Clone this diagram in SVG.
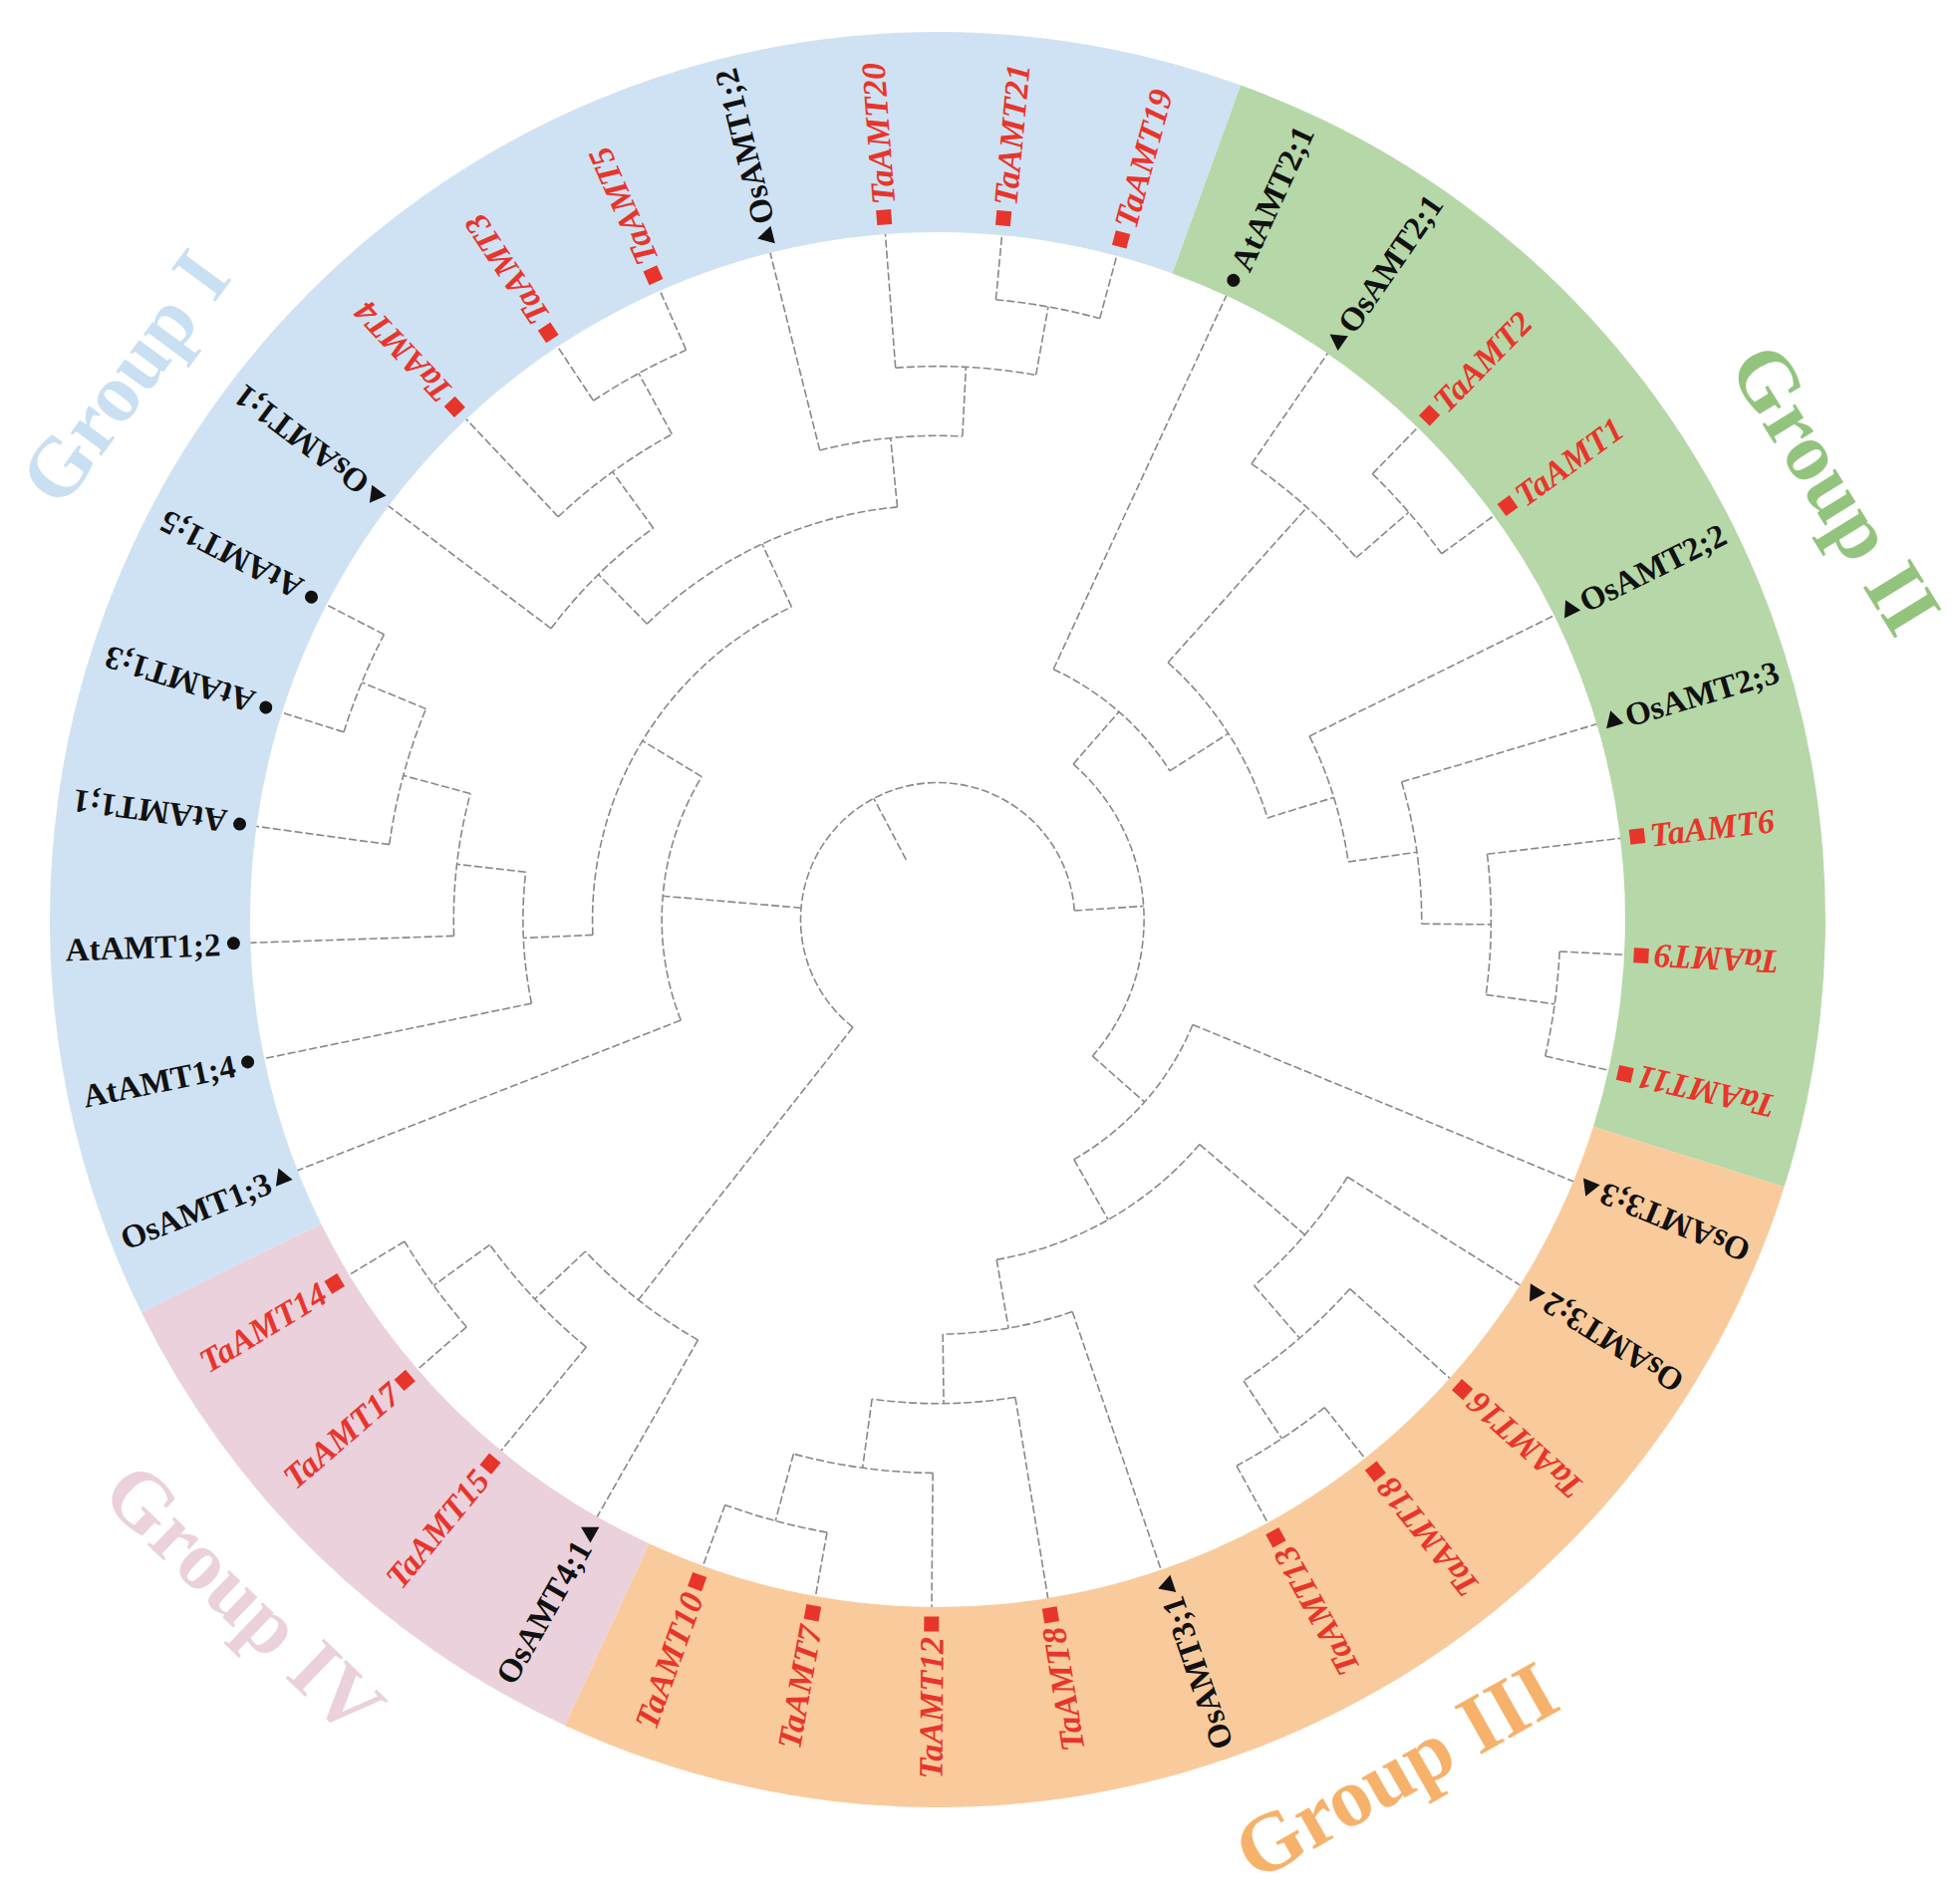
<svg xmlns="http://www.w3.org/2000/svg" width="1967" height="1906" viewBox="0 0 1967 1906">
<style>
.tree line,.tree path{fill:none;stroke:#888;stroke-width:1.6;stroke-dasharray:8 3}
.os{font-family:"Liberation Serif","DejaVu Serif",serif;font-size:33px;font-weight:bold;fill:#111}
.ta{font-family:"Liberation Serif","DejaVu Serif",serif;font-size:34px;font-style:italic;font-weight:bold;fill:#e8352b}
.e{text-anchor:end}
.grp{font-family:"Liberation Serif","DejaVu Serif",serif;font-size:84px;font-weight:bold;text-anchor:middle}
</style>
<defs>
<rect id="sq" x="-7.5" y="-7.5" width="15" height="15" fill="#e8352b"/>
<polygon id="tri" points="-9,7 9,7 0,-9" fill="#111"/>
<circle id="dot" r="6.5" fill="#111"/>
</defs>
<rect width="1967" height="1906" fill="#fff"/>
<g id="sectors">
<path id="sector-I" fill="#cfe2f3" d="M141.94,1317.18 A891,891 0 0 1 1245.14,85.52 L1176.53,274.44 A690,690 0 0 0 322.2,1228.26 Z"/>
<path id="sector-II" fill="#b6d7a8" d="M1245.14,85.52 A891,891 0 0 1 1790.62,1191.33 L1598.97,1130.8 A690,690 0 0 0 1176.53,274.44 Z"/>
<path id="sector-III" fill="#f9cb9c" d="M1790.62,1191.33 A891,891 0 0 1 566.93,1731.68 L651.32,1549.25 A690,690 0 0 0 1598.97,1130.8 Z"/>
<path id="sector-IV" fill="#ead1dc" d="M566.93,1731.68 A891,891 0 0 1 141.94,1317.18 L322.2,1228.26 A690,690 0 0 0 651.32,1549.25 Z"/>
</g>
<g id="group-labels" class="grp">
<text id="label-group-I" fill="#c9dff2" dy="0.35em" transform="translate(124,378) rotate(-53.5)">Group I</text>
<text id="label-group-II" fill="#93c47d" dy="0.35em" transform="translate(1843,490) rotate(58.3)">Group II</text>
<text id="label-group-III" fill="#f6b26b" dy="0.35em" transform="translate(1400,1776) rotate(-29.5)">Group III</text>
<text id="label-group-IV" fill="#ead1dc" dy="0.35em" transform="translate(246,1604) rotate(44)">Group IV</text>
</g>
<g id="connectors" class="tree" transform="translate(941,923)">
<line x1="555.4" x2="690" transform="rotate(90.5)"/>
<line x1="625" x2="690" transform="rotate(100.23)"/>
<line x1="625" x2="690" transform="rotate(109.959)"/>
<line x1="485.7" x2="690" transform="rotate(119.689)"/>
<line x1="555.4" x2="690" transform="rotate(129.419)"/>
<line x1="625" x2="690" transform="rotate(139.149)"/>
<line x1="625" x2="690" transform="rotate(148.878)"/>
<line x1="276.8" x2="690" transform="rotate(158.608)"/>
<line x1="416.1" x2="690" transform="rotate(168.338)"/>
<line x1="485.7" x2="690" transform="rotate(178.068)"/>
<line x1="555.4" x2="690" transform="rotate(187.797)"/>
<line x1="625" x2="690" transform="rotate(197.527)"/>
<line x1="625" x2="690" transform="rotate(207.257)"/>
<line x1="485.7" x2="690" transform="rotate(216.986)"/>
<line x1="555.4" x2="690" transform="rotate(226.716)"/>
<line x1="625" x2="690" transform="rotate(236.446)"/>
<line x1="625" x2="690" transform="rotate(246.176)"/>
<line x1="485.7" x2="690" transform="rotate(255.905)"/>
<line x1="555.4" x2="690" transform="rotate(265.635)"/>
<line x1="625" x2="690" transform="rotate(275.365)"/>
<line x1="625" x2="690" transform="rotate(285.095)"/>
<line x1="276.8" x2="690" transform="rotate(294.824)"/>
<line x1="555.4" x2="690" transform="rotate(304.554)"/>
<line x1="625" x2="690" transform="rotate(314.284)"/>
<line x1="625" x2="690" transform="rotate(324.014)"/>
<line x1="416.1" x2="690" transform="rotate(333.743)"/>
<line x1="485.7" x2="690" transform="rotate(343.473)"/>
<line x1="555.4" x2="690" transform="rotate(353.203)"/>
<line x1="625" x2="690" transform="rotate(2.932)"/>
<line x1="625" x2="690" transform="rotate(12.662)"/>
<line x1="276.8" x2="690" transform="rotate(22.392)"/>
<line x1="485.7" x2="690" transform="rotate(32.122)"/>
<line x1="555.4" x2="690" transform="rotate(41.851)"/>
<line x1="625" x2="690" transform="rotate(51.581)"/>
<line x1="625" x2="690" transform="rotate(61.311)"/>
<line x1="416.1" x2="690" transform="rotate(71.041)"/>
<line x1="485.7" x2="690" transform="rotate(80.77)"/>
<line x1="555.4" x2="625" transform="rotate(144.014)"/>
<line x1="485.7" x2="555.4" transform="rotate(136.716)"/>
<line x1="137.5" x2="485.7" transform="rotate(128.203)"/>
<line x1="555.4" x2="625" transform="rotate(202.392)"/>
<line x1="485.7" x2="555.4" transform="rotate(195.095)"/>
<line x1="416.1" x2="485.7" transform="rotate(186.581)"/>
<line x1="346.4" x2="416.1" transform="rotate(177.459)"/>
<line x1="555.4" x2="625" transform="rotate(241.311)"/>
<line x1="485.7" x2="555.4" transform="rotate(234.014)"/>
<line x1="416.1" x2="485.7" transform="rotate(225.5)"/>
<line x1="555.4" x2="625" transform="rotate(280.23)"/>
<line x1="485.7" x2="555.4" transform="rotate(272.932)"/>
<line x1="416.1" x2="485.7" transform="rotate(264.419)"/>
<line x1="346.4" x2="416.1" transform="rotate(244.959)"/>
<line x1="276.8" x2="346.4" transform="rotate(211.209)"/>
<line x1="137.5" x2="276.8" transform="rotate(184.909)"/>
<line x1="555.4" x2="625" transform="rotate(319.149)"/>
<line x1="346.4" x2="555.4" transform="rotate(311.851)"/>
<line x1="555.4" x2="625" transform="rotate(7.797)"/>
<line x1="485.7" x2="555.4" transform="rotate(0.5)"/>
<line x1="416.1" x2="485.7" transform="rotate(351.986)"/>
<line x1="346.4" x2="416.1" transform="rotate(342.865)"/>
<line x1="276.8" x2="346.4" transform="rotate(327.358)"/>
<line x1="207.1" x2="276.8" transform="rotate(311.091)"/>
<line x1="555.4" x2="625" transform="rotate(56.446)"/>
<line x1="485.7" x2="555.4" transform="rotate(49.149)"/>
<line x1="346.4" x2="485.7" transform="rotate(40.635)"/>
<line x1="555.4" x2="625" transform="rotate(105.095)"/>
<line x1="485.7" x2="555.4" transform="rotate(97.797)"/>
<line x1="416.1" x2="485.7" transform="rotate(89.284)"/>
<line x1="346.4" x2="416.1" transform="rotate(80.162)"/>
<line x1="276.8" x2="346.4" transform="rotate(60.399)"/>
<line x1="207.1" x2="276.8" transform="rotate(41.395)"/>
<line x1="137.5" x2="207.1" transform="rotate(356.243)"/>
<line x1="67.9" x2="137.5" transform="rotate(242.223)"/>
<path d="M625,0 A625,625 0 0 1 616.01,105.63" transform="rotate(139.149)"/>
<path d="M555.4,0 A555.4,555.4 0 0 1 537.48,139.95" transform="rotate(129.419)"/>
<path d="M485.7,0 A485.7,485.7 0 0 1 464.41,142.22" transform="rotate(119.689)"/>
<path d="M625,0 A625,625 0 0 1 616.01,105.63" transform="rotate(197.527)"/>
<path d="M555.4,0 A555.4,555.4 0 0 1 537.48,139.95" transform="rotate(187.797)"/>
<path d="M485.7,0 A485.7,485.7 0 0 1 464.41,142.22" transform="rotate(178.068)"/>
<path d="M416.1,0 A416.1,416.1 0 0 1 395.19,130.26" transform="rotate(168.338)"/>
<path d="M625,0 A625,625 0 0 1 616.01,105.63" transform="rotate(236.446)"/>
<path d="M555.4,0 A555.4,555.4 0 0 1 537.48,139.95" transform="rotate(226.716)"/>
<path d="M485.7,0 A485.7,485.7 0 0 1 464.41,142.22" transform="rotate(216.986)"/>
<path d="M625,0 A625,625 0 0 1 616.01,105.63" transform="rotate(275.365)"/>
<path d="M555.4,0 A555.4,555.4 0 0 1 537.48,139.95" transform="rotate(265.635)"/>
<path d="M485.7,0 A485.7,485.7 0 0 1 464.41,142.22" transform="rotate(255.905)"/>
<path d="M416.1,0 A416.1,416.1 0 0 1 323.74,261.4" transform="rotate(225.5)"/>
<path d="M346.4,0 A346.4,346.4 0 0 1 132.56,320.03" transform="rotate(177.459)"/>
<path d="M276.8,0 A276.8,276.8 0 0 1 168.12,219.9" transform="rotate(158.608)"/>
<path d="M625,0 A625,625 0 0 1 616.01,105.63" transform="rotate(314.284)"/>
<path d="M555.4,0 A555.4,555.4 0 0 1 537.48,139.95" transform="rotate(304.554)"/>
<path d="M625,0 A625,625 0 0 1 616.01,105.63" transform="rotate(2.932)"/>
<path d="M555.4,0 A555.4,555.4 0 0 1 537.48,139.95" transform="rotate(353.203)"/>
<path d="M485.7,0 A485.7,485.7 0 0 1 464.41,142.22" transform="rotate(343.473)"/>
<path d="M416.1,0 A416.1,416.1 0 0 1 395.19,130.26" transform="rotate(333.743)"/>
<path d="M346.4,0 A346.4,346.4 0 0 1 296.88,178.48" transform="rotate(311.851)"/>
<path d="M276.8,0 A276.8,276.8 0 0 1 233.36,148.86" transform="rotate(294.824)"/>
<path d="M625,0 A625,625 0 0 1 616.01,105.63" transform="rotate(51.581)"/>
<path d="M555.4,0 A555.4,555.4 0 0 1 537.48,139.95" transform="rotate(41.851)"/>
<path d="M485.7,0 A485.7,485.7 0 0 1 464.41,142.22" transform="rotate(32.122)"/>
<path d="M625,0 A625,625 0 0 1 616.01,105.63" transform="rotate(100.23)"/>
<path d="M555.4,0 A555.4,555.4 0 0 1 537.48,139.95" transform="rotate(90.5)"/>
<path d="M485.7,0 A485.7,485.7 0 0 1 464.41,142.22" transform="rotate(80.77)"/>
<path d="M416.1,0 A416.1,416.1 0 0 1 395.19,130.26" transform="rotate(71.041)"/>
<path d="M346.4,0 A346.4,346.4 0 0 1 267.19,220.46" transform="rotate(40.635)"/>
<path d="M276.8,0 A276.8,276.8 0 0 1 218.1,170.44" transform="rotate(22.392)"/>
<path d="M207.1,0 A207.1,207.1 0 0 1 -1.1,207.1" transform="rotate(311.091)"/>
<path d="M137.5,0 A137.5,137.5 0 1 1 -91.93,-102.25" transform="rotate(128.203)"/>
</g>
<g id="leaves" transform="translate(941,923)">
<g id="AtAMT1-1" transform="rotate(187.797)"><use href="#dot" x="707"/><text class="os" x="720" y="12">AtAMT1;1</text></g>
<g id="AtAMT1-3" transform="rotate(197.527)"><use href="#dot" x="707"/><text class="os" x="720" y="12">AtAMT1;3</text></g>
<g id="AtAMT1-5" transform="rotate(207.257)"><use href="#dot" x="707"/><text class="os" x="720" y="12">AtAMT1;5</text></g>
<g id="OsAMT1-1" transform="rotate(216.986)"><use href="#tri" x="707"/><text class="os" x="720" y="12">OsAMT1;1</text></g>
<g id="TaAMT4" transform="rotate(226.716)"><use href="#sq" x="707"/><text class="ta" x="720" y="12">TaAMT4</text></g>
<g id="TaAMT3" transform="rotate(236.446)"><use href="#sq" x="707"/><text class="ta" x="720" y="12">TaAMT3</text></g>
<g id="TaAMT5" transform="rotate(246.176)"><use href="#sq" x="707"/><text class="ta" x="720" y="12">TaAMT5</text></g>
<g id="OsAMT1-2" transform="rotate(255.905)"><use href="#tri" x="707"/><text class="os" x="720" y="12">OsAMT1;2</text></g>
<g id="TaAMT20" transform="rotate(265.635)"><use href="#sq" x="707"/><text class="ta" x="720" y="12">TaAMT20</text></g>
<g id="TaAMT21" transform="rotate(275.365)"><use href="#sq" x="707"/><text class="ta" x="720" y="12">TaAMT21</text></g>
<g id="TaAMT19" transform="rotate(285.095)"><use href="#sq" x="707"/><text class="ta" x="720" y="12">TaAMT19</text></g>
<g id="AtAMT2-1" transform="rotate(294.824)"><use href="#dot" x="707"/><text class="os" x="720" y="12">AtAMT2;1</text></g>
<g id="OsAMT2-1" transform="rotate(304.554)"><use href="#tri" x="707"/><text class="os" x="720" y="12">OsAMT2;1</text></g>
<g id="TaAMT2" transform="rotate(314.284)"><use href="#sq" x="707"/><text class="ta" x="720" y="12">TaAMT2</text></g>
<g id="TaAMT1" transform="rotate(324.014)"><use href="#sq" x="707"/><text class="ta" x="720" y="12">TaAMT1</text></g>
<g id="OsAMT2-2" transform="rotate(333.743)"><use href="#tri" x="707"/><text class="os" x="720" y="12">OsAMT2;2</text></g>
<g id="OsAMT2-3" transform="rotate(343.473)"><use href="#tri" x="707"/><text class="os" x="720" y="12">OsAMT2;3</text></g>
<g id="TaAMT6" transform="rotate(353.203)"><use href="#sq" x="707"/><text class="ta" x="720" y="12">TaAMT6</text></g>
<g id="TaAMT9" transform="rotate(182.932)"><use href="#sq" x="-707"/><text class="ta e" x="-720" y="12">TaAMT9</text></g>
<g id="TaAMT11" transform="rotate(192.662)"><use href="#sq" x="-707"/><text class="ta e" x="-720" y="12">TaAMT11</text></g>
<g id="OsAMT3-3" transform="rotate(202.392)"><use href="#tri" x="-707"/><text class="os e" x="-720" y="12">OsAMT3;3</text></g>
<g id="OsAMT3-2" transform="rotate(212.122)"><use href="#tri" x="-707"/><text class="os e" x="-720" y="12">OsAMT3;2</text></g>
<g id="TaAMT16" transform="rotate(221.851)"><use href="#sq" x="-707"/><text class="ta e" x="-720" y="12">TaAMT16</text></g>
<g id="TaAMT18" transform="rotate(231.581)"><use href="#sq" x="-707"/><text class="ta e" x="-720" y="12">TaAMT18</text></g>
<g id="TaAMT13" transform="rotate(241.311)"><use href="#sq" x="-707"/><text class="ta e" x="-720" y="12">TaAMT13</text></g>
<g id="OsAMT3-1" transform="rotate(251.041)"><use href="#tri" x="-707"/><text class="os e" x="-720" y="12">OsAMT3;1</text></g>
<g id="TaAMT8" transform="rotate(260.77)"><use href="#sq" x="-707"/><text class="ta e" x="-720" y="12">TaAMT8</text></g>
<g id="TaAMT12" transform="rotate(270.5)"><use href="#sq" x="-707"/><text class="ta e" x="-720" y="12">TaAMT12</text></g>
<g id="TaAMT7" transform="rotate(280.23)"><use href="#sq" x="-707"/><text class="ta e" x="-720" y="12">TaAMT7</text></g>
<g id="TaAMT10" transform="rotate(289.959)"><use href="#sq" x="-707"/><text class="ta e" x="-720" y="12">TaAMT10</text></g>
<g id="OsAMT4-1" transform="rotate(299.689)"><use href="#tri" x="-707"/><text class="os e" x="-720" y="12">OsAMT4;1</text></g>
<g id="TaAMT15" transform="rotate(309.419)"><use href="#sq" x="-707"/><text class="ta e" x="-720" y="12">TaAMT15</text></g>
<g id="TaAMT17" transform="rotate(319.149)"><use href="#sq" x="-707"/><text class="ta e" x="-720" y="12">TaAMT17</text></g>
<g id="TaAMT14" transform="rotate(328.878)"><use href="#sq" x="-707"/><text class="ta e" x="-720" y="12">TaAMT14</text></g>
<g id="OsAMT1-3" transform="rotate(338.608)"><use href="#tri" x="-707"/><text class="os e" x="-720" y="12">OsAMT1;3</text></g>
<g id="AtAMT1-4" transform="rotate(348.338)"><use href="#dot" x="-707"/><text class="os e" x="-720" y="12">AtAMT1;4</text></g>
<g id="AtAMT1-2" transform="rotate(358.068)"><use href="#dot" x="-707"/><text class="os e" x="-720" y="12">AtAMT1;2</text></g>
</g>
</svg>
